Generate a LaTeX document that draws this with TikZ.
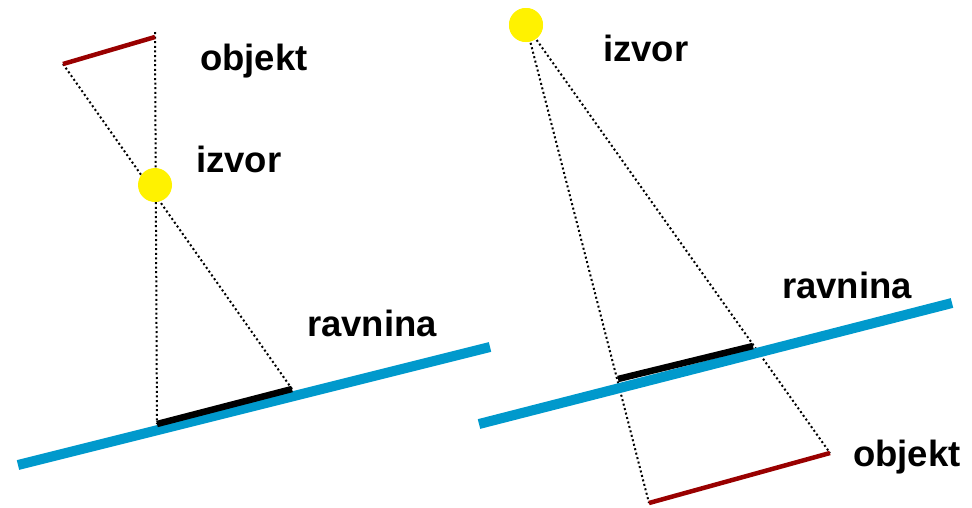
\documentclass[tikz,border=0pt]{standalone}
\usepackage{fontspec}
\setmainfont{Liberation Sans}
\definecolor{planeblue}{RGB}{0,153,204}
\definecolor{objred}{RGB}{153,0,0}
\begin{document}
\begin{tikzpicture}[x=1pt,y=-1pt,
  ray/.style={line width=2pt,dash pattern=on 2pt off 2.6pt,black},
  plane/.style={line width=10pt,planeblue},
  imgseg/.style={line width=6.5pt,black},
  objseg/.style={line width=4.5pt,objred},
  srcnode/.style={circle,fill=yellow,minimum size=34pt,inner sep=0pt},
  lbl/.style={font=\fontsize{36.5}{40}\selectfont\bfseries,anchor=base west,inner sep=0pt}]
\useasboundingbox (0,0) rectangle (972,507);
% ---------- left ----------
\coordinate (oL1) at (63,64);
\coordinate (oL2) at (155,37);
\coordinate (oL2top) at (155,32);
\coordinate (iL1) at (157,424);
\coordinate (iL2) at (292,389);
\coordinate (pL1) at (18,465);
\coordinate (pL2) at (490,347);
\draw[ray] (oL2top) -- (iL1);
\draw[ray] (oL1) -- (iL2);
\draw[objseg] (oL1) -- (oL2);
\draw[plane] (pL1) -- (pL2);
\draw[imgseg] (iL1) -- (iL2);
\node[srcnode] (sL) at (155,185) {};
\node[lbl] (tObjL) at (200,70) {objekt};
\node[lbl] (tSrcL) at (196,172) {izvor};
\node[lbl] (tPlL) at (307,336) {ravnina};
% ---------- right ----------
\node[srcnode] (sR) at (526,25) {};
\coordinate (oR1) at (649,503);
\coordinate (oR2) at (830,453);
\coordinate (iR1) at (618,379);
\coordinate (iR2) at (753,346);
\coordinate (pR1) at (479,424);
\coordinate (pR2) at (952,303);
\draw[ray] (sR.center) -- (oR1);
\draw[ray] (sR.center) -- (oR2);
\node[srcnode] at (sR) {};
\draw[objseg] (oR1) -- (oR2);
\draw[plane] (pR1) -- (pR2);
\draw[imgseg] (iR1) -- (iR2);
\node[lbl] (tSrcR) at (603,61) {izvor};
\node[lbl] (tPlR) at (782,298) {ravnina};
\node[lbl] (tObjR) at (853,466) {objekt};
\end{tikzpicture}
\end{document}
